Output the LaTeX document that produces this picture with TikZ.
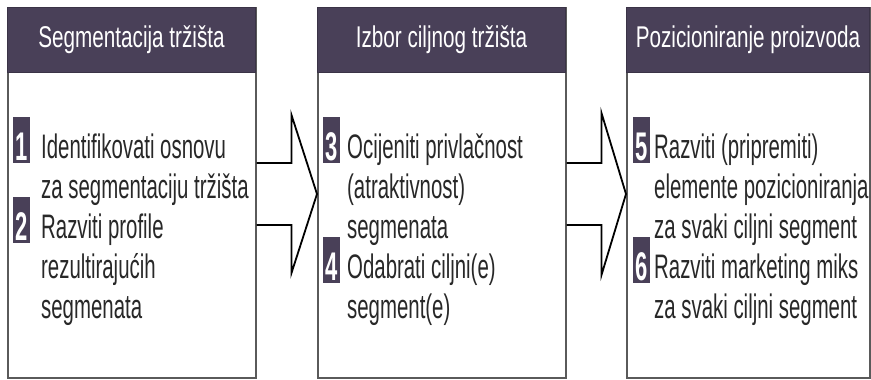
\documentclass[tikz,border=0pt]{standalone}
\usepackage{fontspec}
\setmainfont{Liberation Sans}[FakeStretch=0.69]
\newfontfamily\bodyfont{Liberation Sans}[FakeStretch=0.6]
\newfontfamily\digitfont{Liberation Sans}[FakeStretch=0.55]
\usetikzlibrary{calc}
\definecolor{hdr}{RGB}{73,64,88}
\definecolor{txt}{RGB}{40,40,40}
\definecolor{frame}{RGB}{90,90,90}
\begin{document}
\begin{tikzpicture}[x=1pt,y=-1pt,
  panel/.style={draw=frame, line width=1.5pt, fill=white, inner sep=0pt,
    minimum width=248pt, minimum height=370pt, anchor=north west},
  hdrbox/.style={draw=hdr!80!black, line width=1pt, fill=hdr, text=white, inner sep=0pt,
    minimum width=248pt, minimum height=65pt, anchor=north west,
    font=\fontsize{30}{30}\selectfont},
  numbox/.style={fill=hdr, inner sep=0pt, minimum width=17pt, minimum height=46pt, anchor=north west},
  digit/.style={text=white, inner sep=0pt, anchor=base, font=\digitfont\bfseries\fontsize{40}{40}\selectfont},
  line/.style={text=txt, inner sep=0pt, anchor=base west, font=\bodyfont\fontsize{34}{40}\selectfont},
  arrowline/.style={draw=black, line width=1.8pt, line join=miter}
]
\useasboundingbox (0,0) rectangle (871,380);

% panels
\node[panel] (p1) at (7,7) {};
\node[panel] (p2) at (317,7) {};
\node[panel, minimum width=243pt] (p3) at (626,7) {};

% headers
\node[hdrbox] (h1) at (p1.north west) {Segmentacija tržišta};
\node[hdrbox] (h2) at (p2.north west) {Izbor ciljnog tržišta};
\node[hdrbox, minimum width=243pt] (h3) at (p3.north west) {Pozicioniranje proizvoda};

% arrows
\draw[arrowline] ($(p1.north east)+(0,156)$) -- ++(35,0) -- ++(0,-48)
  -- ($(p2.north west)+(0,187)$) -- ($(p1.north east)+(35,266)$) -- ++(0,-48) -- ++(-35,0);
\draw[arrowline] ($(p2.north east)+(0,156)$) -- ++(35,0) -- ++(0,-50)
  -- ($(p3.north west)+(0,187)$) -- ($(p2.north east)+(35,268)$) -- ++(0,-50) -- ++(-35,0);

% box 1
\node[numbox] (n1) at (13,117) {};
\node[digit] (d1) at ($(n1.south)+(0,-3)$) {1};
\node[numbox] (n2) at (13,197) {};
\node[digit] (d2) at ($(n2.south)+(0,-3)$) {2};
\node[line] (l11) at (41,158) {Identifikovati osnovu};
\node[line] (l12) at (41,198) {za segmentaciju tržišta};
\node[line] (l13) at (41,238) {Razviti profile};
\node[line] (l14) at (41,278) {rezultirajućih};
\node[line] (l15) at (41,318) {segmenata};

% box 2
\node[numbox] (n3) at (323,117) {};
\node[digit] (d3) at ($(n3.south)+(0,-3)$) {3};
\node[numbox] (n4) at (323,237) {};
\node[digit] (d4) at ($(n4.south)+(0,-3)$) {4};
\node[line] (l21) at (347,158) {Ocijeniti privlačnost};
\node[line] (l22) at (347,198) {(atraktivnost)};
\node[line] (l23) at (347,238) {segmenata};
\node[line] (l24) at (347,278) {Odabrati ciljni(e)};
\node[line] (l25) at (347,318) {segment(e)};

% box 3
\node[numbox] (n5) at (633,117) {};
\node[digit] (d5) at ($(n5.south)+(0,-3)$) {5};
\node[numbox] (n6) at (633,237) {};
\node[digit] (d6) at ($(n6.south)+(0,-3)$) {6};
\node[line] (l31) at (654,158) {Razviti (pripremiti)};
\node[line] (l32) at (654,198) {elemente pozicioniranja};
\node[line] (l33) at (654,238) {za svaki ciljni segment};
\node[line] (l34) at (654,278) {Razviti marketing miks};
\node[line] (l35) at (654,318) {za svaki ciljni segment};
\end{tikzpicture}
\end{document}
